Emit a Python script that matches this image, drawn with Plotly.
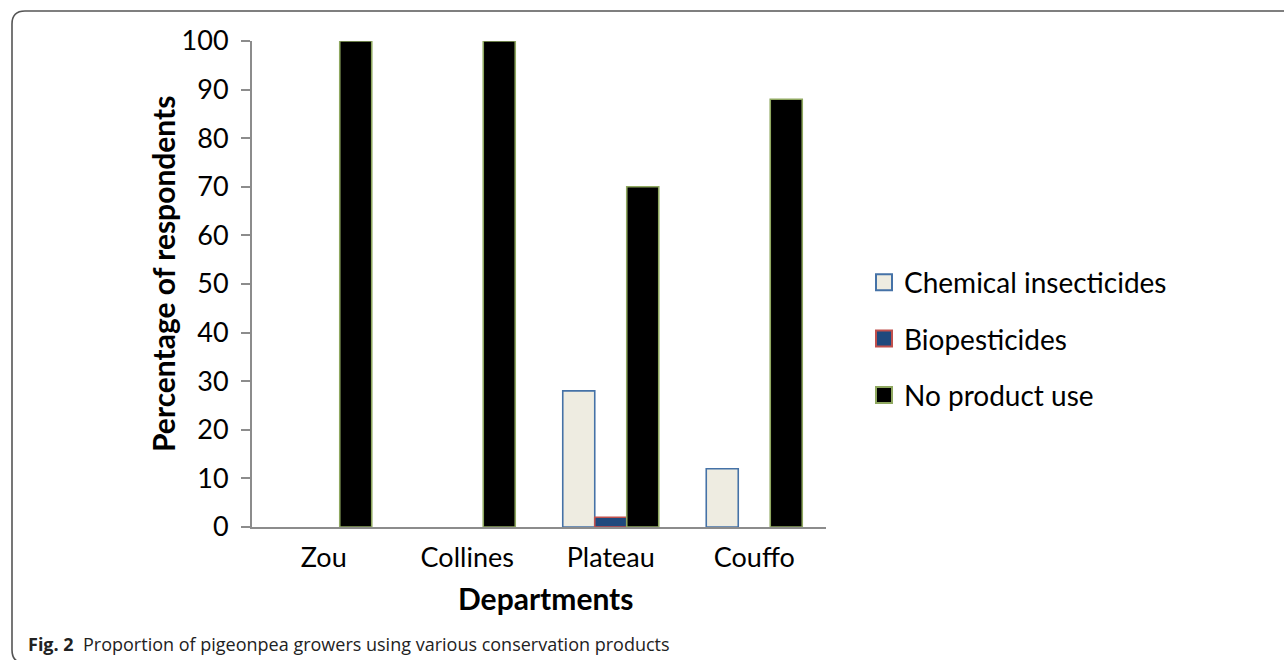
import plotly.graph_objects as go

# Share of pigeonpea growers (%) by department and conservation product
departments = ["Zou", "Collines", "Plateau", "Couffo"]
chemical_insecticides = [0, 0, 28, 12]
biopesticides = [0, 0, 2, 0]
no_product_use = [100, 100, 70, 88]
y_ticks = list(range(0, 101, 10))

W, H = 1284, 660
M = dict(l=252, r=458, t=41, b=133)
PW = W - M["l"] - M["r"]
PH = H - M["t"] - M["b"]


def px(x):
    """Pixel x -> paper x."""
    return (x - M["l"]) / PW


def py(y):
    """Pixel y (from top) -> paper y."""
    return (H - M["b"] - y) / PH


def nz(vals):
    # empty categories are left blank rather than drawn as flat bars
    return [v if v else None for v in vals]


FONT = "Lato, Carlito, Calibri, sans-serif"
series = [
    ("Chemical insecticides", chemical_insecticides, "#EEECE1", "#4572A7"),
    ("Biopesticides", biopesticides, "#1F497D", "#C0504D"),
    ("No product use", no_product_use, "#000000", "#8FA860"),
]

fig = go.Figure()
for name, vals, fill, edge in series:
    fig.add_trace(go.Bar(
        x=departments, y=nz(vals), name=name,
        marker=dict(color=fill, line=dict(color=edge, width=1.6)),
        showlegend=False, hoverinfo="x+y+name",
    ))
# legend keys
for i, (name, vals, fill, edge) in enumerate(series):
    fig.add_trace(go.Scatter(
        x=[None], y=[None], mode="markers", name=name,
        legendgroup=f"g{i}",
        marker=dict(symbol="square", size=17, color=fill,
                    line=dict(color=edge, width=2)),
    ))

fig.update_layout(
    width=W, height=H,
    margin=M,
    paper_bgcolor="white", plot_bgcolor="white",
    barmode="group", bargap=0.331, bargroupgap=0,
    font=dict(family=FONT, color="#000000", size=27),
    showlegend=True,
    legend=dict(
        x=px(864), y=py(339), xanchor="left", yanchor="middle",
        font=dict(family=FONT, size=28, color="#000000"),
        traceorder="grouped", tracegroupgap=17,
        itemsizing="trace", bgcolor="rgba(0,0,0,0)",
    ),
    xaxis=dict(
        showline=True, linecolor="#8C8C8C", linewidth=2,
        showgrid=False, ticks="", tickfont=dict(size=27),
        ticklabelstandoff=6,
    ),
    yaxis=dict(
        range=[0, 100], tickvals=y_ticks, showline=True,
        linecolor="#8C8C8C", linewidth=2, showgrid=False, zeroline=False,
        ticks="outside", ticklen=9, tickcolor="#8C8C8C", tickwidth=2,
        tickfont=dict(size=27), ticklabelstandoff=7,
    ),
    annotations=[
        dict(text="<b>Percentage of respondents</b>", x=px(163), y=py(274),
             xref="paper", yref="paper", textangle=-90, showarrow=False,
             font=dict(family=FONT, size=30), xanchor="center", yanchor="middle"),
        dict(text="<b>Departments</b>", x=px(545), y=py(598),
             xref="paper", yref="paper", showarrow=False,
             font=dict(family=FONT, size=30), xanchor="center", yanchor="middle"),
        dict(text="<b>Fig. 2</b>  Proportion of pigeonpea growers using various conservation products",
             x=px(26), y=py(644), xref="paper", yref="paper", showarrow=False,
             font=dict(family="Open Sans, sans-serif", size=18, color="#222222"),
             xanchor="left", yanchor="middle"),
    ],
    shapes=[
        # figure frame with rounded left corners
        dict(type="path", xref="paper", yref="paper",
             path=(f"M {px(1290)},{py(11)} L {px(25)},{py(11)} "
                   f"Q {px(12)},{py(11)} {px(12)},{py(24)} "
                   f"L {px(12)},{py(650)} Q {px(12)},{py(663)} {px(25)},{py(663)}"),
             line=dict(color="#555555", width=1.6)),
    ],
)

fig.write_html("out.html")
